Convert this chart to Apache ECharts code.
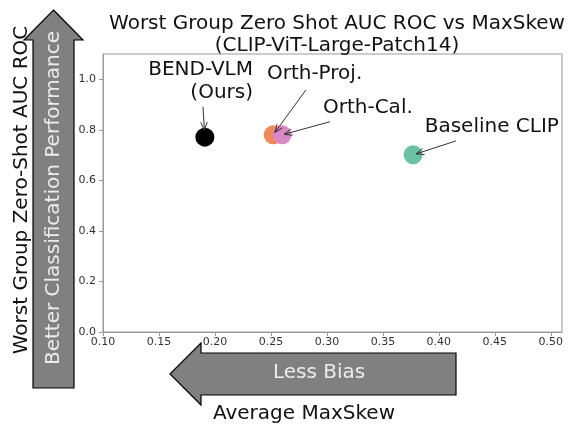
<!DOCTYPE html>
<html>
<head>
<meta charset="utf-8">
<script src="https://cdn.jsdelivr.net/npm/echarts@6/dist/echarts.min.js"></script>
<style>
  html, body { margin: 0; padding: 0; background: #fff; }
  #chart { width: 568px; height: 424px; }
</style>
</head>
<body>
<div id="chart"></div>
<script>
// Methods compared, with average MaxSkew (x) and worst-group AUC ROC (y)
const methods = ['BEND-VLM\n(Ours)', 'Orth-Proj.', 'Orth-Cal.', 'Baseline CLIP'];
const maxSkew = [0.191, 0.252, 0.260, 0.377];
const aucRoc = [0.771, 0.780, 0.780, 0.701];
const pointColors = ['#000000', '#f0895a', '#db88c6', '#6cc1a2'];

// Tick values
const xTicks = [0.10, 0.15, 0.20, 0.25, 0.30, 0.35, 0.40, 0.45, 0.50];
const yTicks = [0.0, 0.2, 0.4, 0.6, 0.8, 1.0];

// Annotation layout (data units): text anchor, arrow tail, and alignment
const labelAnchors = [[0.234, 0.992], [0.289, 1.022], [0.3366, 0.887], [0.4473, 0.812]];
const arrowTails = [[0.1893, 0.891], [0.2813, 0.958], [0.3027, 0.832], [0.4152, 0.756]];
const labelAlign = ['right', 'center', 'center', 'center'];
const arrowShrink = [7, 3, 2, 3];

const FONT = 'DejaVu Sans';
const chart = echarts.init(document.getElementById('chart'), null, { renderer: 'canvas' });

const option = {
  animation: false,
  backgroundColor: '#ffffff',
  title: {
    text: 'Worst Group Zero Shot AUC ROC vs MaxSkew\n(CLIP-ViT-Large-Patch14)',
    left: 332,
    top: 8,
    textAlign: 'center',
    textStyle: { fontFamily: FONT, fontSize: 20, fontWeight: 'normal', color: '#111', lineHeight: 22 }
  },
  grid: {
    left: 103, right: 6, top: 54, bottom: 92,
    show: true, borderColor: '#999', borderWidth: 1, backgroundColor: 'transparent'
  },
  xAxis: {
    type: 'value', min: 0.1, max: 0.51, interval: 0.05,
    axisLine: { show: true, onZero: false, lineStyle: { color: '#999', width: 1 } },
    axisTick: { show: true, length: 4, lineStyle: { color: '#999' }, customValues: xTicks },
    axisLabel: {
      customValues: xTicks, margin: 5,
      formatter: v => v.toFixed(2),
      fontFamily: FONT, fontSize: 11, color: '#333'
    },
    splitLine: { show: false }
  },
  yAxis: {
    type: 'value', min: 0, max: 1.1, interval: 0.2,
    axisLine: { show: true, onZero: false, lineStyle: { color: '#999', width: 1 } },
    axisTick: { show: true, length: 4, lineStyle: { color: '#999' }, customValues: yTicks },
    axisLabel: {
      customValues: yTicks, margin: 7,
      formatter: v => v.toFixed(1),
      fontFamily: FONT, fontSize: 11, color: '#333'
    },
    splitLine: { show: false }
  },
  series: [{
    type: 'scatter',
    symbolSize: 19,
    data: methods.map((m, i) => ({
      name: m,
      value: [maxSkew[i], aucRoc[i]],
      itemStyle: { color: pointColors[i], opacity: 1 }
    })),
    z: 3
  }]
};
chart.setOption(option);

// Decorations: axis labels, direction arrows, and method annotations
function buildGraphics() {
  const els = [];

  // Upward "better performance" arrow beside the y axis
  els.push({
    type: 'polygon', z: 1,
    shape: { points: [[53.5, 10], [83, 40], [74, 40], [74, 388], [33, 388], [33, 40], [24, 40]] },
    style: { fill: '#808080', stroke: '#000', lineWidth: 1.2 }
  });
  els.push({
    type: 'text', z: 2, x: 53.5, y: 198, rotation: Math.PI / 2,
    style: { text: 'Better Classification Performance', fontFamily: FONT, fontSize: 20,
             fill: '#ececec', align: 'center', verticalAlign: 'middle' }
  });
  // Y-axis title
  els.push({
    type: 'text', z: 2, x: 22, y: 190, rotation: Math.PI / 2,
    style: { text: 'Worst Group Zero-Shot AUC ROC', fontFamily: FONT, fontSize: 20,
             fill: '#111', align: 'center', verticalAlign: 'middle' }
  });

  // Leftward "less bias" arrow under the x axis
  els.push({
    type: 'polygon', z: 1,
    shape: { points: [[170, 374], [201, 343], [201, 353], [456, 353], [456, 395], [201, 395], [201, 405]] },
    style: { fill: '#808080', stroke: '#000', lineWidth: 1.2 }
  });
  els.push({
    type: 'text', z: 2, x: 319, y: 373,
    style: { text: 'Less Bias', fontFamily: FONT, fontSize: 20, fill: '#ececec',
             align: 'center', verticalAlign: 'middle' }
  });
  // X-axis title
  els.push({
    type: 'text', z: 2, x: 304, y: 414,
    style: { text: 'Average MaxSkew', fontFamily: FONT, fontSize: 20, fill: '#111',
             align: 'center', verticalAlign: 'middle' }
  });

  // Method labels with arrows pointing at their markers
  methods.forEach((m, i) => {
    const a = chart.convertToPixel({ gridIndex: 0 }, labelAnchors[i]);
    els.push({
      type: 'text', z: 4, x: a[0], y: a[1],
      style: { text: m, fontFamily: FONT, fontSize: 20, fill: '#111', lineHeight: 23,
               align: labelAlign[i], verticalAlign: 'middle' }
    });
    const t = chart.convertToPixel({ gridIndex: 0 }, arrowTails[i]);
    const p = chart.convertToPixel({ gridIndex: 0 }, [maxSkew[i], aucRoc[i]]);
    const dx = p[0] - t[0], dy = p[1] - t[1];
    const len = Math.hypot(dx, dy);
    const ux = dx / len, uy = dy / len;
    const hx = p[0] - ux * arrowShrink[i], hy = p[1] - uy * arrowShrink[i];
    els.push({
      type: 'line', z: 5,
      shape: { x1: t[0], y1: t[1], x2: hx, y2: hy },
      style: { stroke: '#333', lineWidth: 1 }
    });
    const hl = 8, hw = 3.2;
    const bx = hx - ux * hl, by = hy - uy * hl;
    els.push({
      type: 'polyline', z: 5,
      shape: { points: [[bx - uy * hw, by + ux * hw], [hx, hy], [bx + uy * hw, by - ux * hw]] },
      style: { stroke: '#333', lineWidth: 1, fill: null }
    });
  });
  return els;
}

chart.setOption({ graphic: buildGraphics() });
</script>
</body>
</html>
